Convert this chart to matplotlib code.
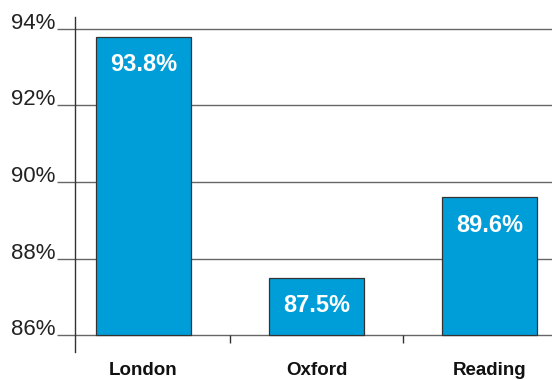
import matplotlib
matplotlib.use("Agg")
import matplotlib.pyplot as plt
import matplotlib.transforms as mtransforms

plt.rcParams['font.family'] = ['Liberation Sans', 'DejaVu Sans']

cities = ["London", "Oxford", "Reading"]
shares = [93.8, 87.5, 89.6]
y_ticks = [86, 88, 90, 92, 94]
y_tick_labels = ["86%", "88%", "90%", "92%", "94%"]

bar_color = "#009ED9"
grid_color = "#666666"

fig = plt.figure(figsize=(5.52, 3.80), dpi=100)
ax = fig.add_axes([75 / 552, 1 - 352 / 380, 1 - 75 / 552, (352 - 17) / 380])

ax.set_xlim(-0.396, 2.36)
ax.set_ylim(85.56, 94.31)

base = 86
x = list(range(len(cities)))
heights = [v - base for v in shares]
ax.bar(x, heights, bottom=base, width=0.55, color=bar_color,
       edgecolor="#333333", linewidth=0.9, zorder=3)

for xi, v in zip(x, shares):
    ax.annotate(f"{v:.1f}%", xy=(xi, v), xytext=(0, -28), textcoords="offset pixels",
                ha="center", va="center", color="white", fontsize=17,
                fontweight="bold", zorder=4)

# horizontal gridlines including the baseline
ax.set_yticks(y_ticks)
ax.set_yticklabels(y_tick_labels)
ax.yaxis.grid(True, color=grid_color, linewidth=1.0, zorder=1)
ax.tick_params(axis="y", length=13, width=1.0, color=grid_color, labelsize=16,
               labelcolor="#222222", pad=1)
offset = mtransforms.ScaledTranslation(0, 8 / 100, fig.dpi_scale_trans)
for lbl in ax.get_yticklabels():
    lbl.set_transform(lbl.get_transform() + offset)

# category labels and separators
ax.set_xticks(x)
ax.set_xticklabels(cities, fontsize=13.5, fontweight="bold", color="#111111")
ax.tick_params(axis="x", length=0, pad=7)
ax.vlines([0.5, 1.5], base - 0.21, base, color="#333333", linewidth=1.0,
          clip_on=False, zorder=2)

for side in ["top", "right", "bottom"]:
    ax.spines[side].set_visible(False)
ax.spines["left"].set_color("#333333")
ax.spines["left"].set_linewidth(1.0)

fig.savefig("out.png", dpi=100)
